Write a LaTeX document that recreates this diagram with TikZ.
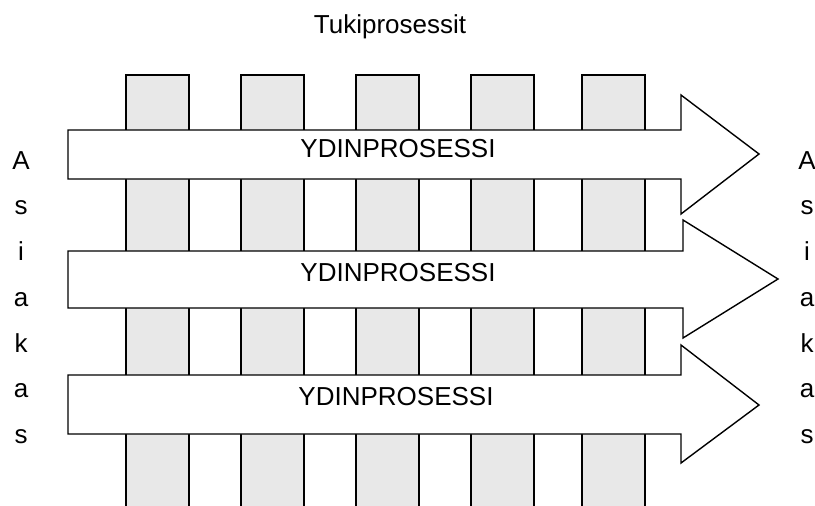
\documentclass[tikz,border=0pt]{standalone}
\usepackage{fontspec}
\setmainfont{Liberation Sans}
\begin{document}
\begin{tikzpicture}[x=1pt,y=-1pt,
  col/.style={draw=black,fill=colgray,line width=1.4pt},
  bigarrow/.style={draw=black,fill=white,line width=1.4pt,line join=miter},
  lbl/.style={font=\fontsize{26}{30}\selectfont,inner sep=0pt,anchor=base},
  letter/.style={font=\fontsize{26}{30}\selectfont,inner sep=0pt,anchor=base}]
\definecolor{colgray}{HTML}{E8E8E8}
\useasboundingbox (0,0) rectangle (815,506);
% support process columns
\foreach \xa/\xb in {126/189,241/304,356/419,471/534,582/645}
  \draw[col] (\xa,510) -- (\xa,75) -- (\xb,75) -- (\xb,510);
% core process arrows
\draw[bigarrow] (68,130) -- (681,130) -- (681,95) -- (759,154) -- (681,214) -- (681,179) -- (68,179) -- cycle;
\draw[bigarrow] (68,251) -- (683,251) -- (683,220) -- (778,279) -- (683,338) -- (683,308) -- (68,308) -- cycle;
\draw[bigarrow] (68,375) -- (681,375) -- (681,345) -- (759,405) -- (681,463) -- (681,434) -- (68,434) -- cycle;
% texts
\node[lbl] (title) at (390,33) {Tukiprosessit};
\node[lbl] (core1) at (398,157) {YDINPROSESSI};
\node[lbl] (core2) at (398,281) {YDINPROSESSI};
\node[lbl] (core3) at (396,405) {YDINPROSESSI};
\foreach \ch [count=\i from 0] in {A,s,i,a,k,a,s} {
  \node[letter] (L\i) at (21,169+45.75*\i) {\ch};
  \node[letter] (R\i) at (807,169+45.75*\i) {\ch};
}
\end{tikzpicture}
\end{document}
